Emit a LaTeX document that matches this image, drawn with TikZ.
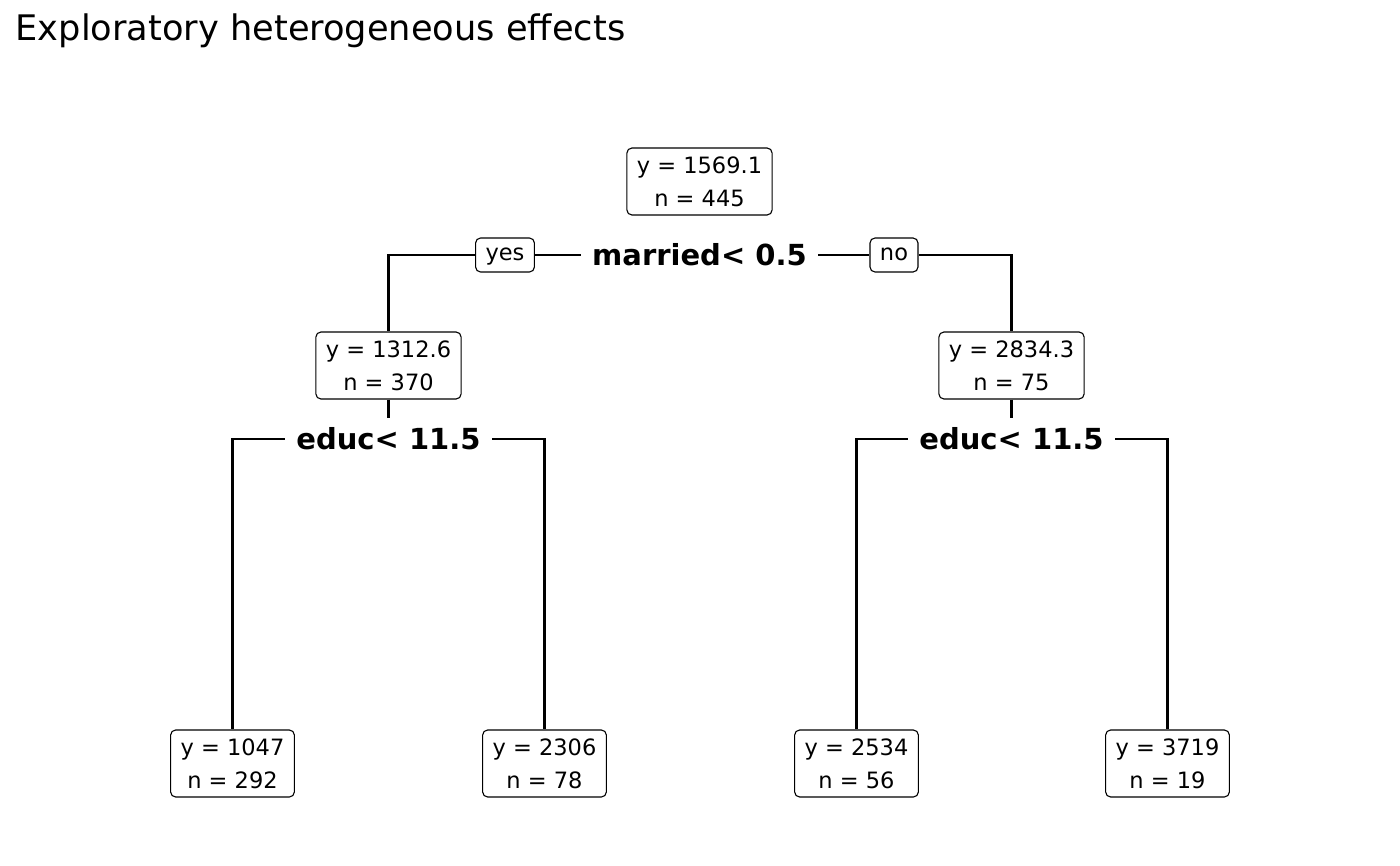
\documentclass[tikz,border=0pt]{standalone}
\usepackage{fontspec}
\setmainfont{DejaVu Sans}
\begin{document}
\begin{tikzpicture}[x=1pt,y=-1pt,
  box/.style={draw=black,line width=1.1pt,rounded corners=5pt,inner xsep=10pt,inner ysep=0pt,
    minimum height=67pt,align=center,font=\fontsize{22.5}{33}\selectfont},
  tag/.style={draw=black,line width=1.1pt,rounded corners=5pt,inner xsep=10pt,inner ysep=0pt,
    minimum height=34pt,text height=16.4pt,text depth=5.3pt,font=\fontsize{22.5}{27}\selectfont},
  split/.style={inner xsep=11.5pt,inner ysep=0pt,minimum height=42pt,font=\fontsize{29}{34}\selectfont\bfseries},
  edge/.style={line width=2.5pt}]
\useasboundingbox (0,0) rectangle (1400,866);
\node[anchor=base west,inner sep=0pt,font=\fontsize{35.2}{42}\selectfont] (title) at (15.5,41) {Exploratory heterogeneous effects};
% nodes
\node[box] (n1) at (699.5,181.5) {y = 1569.1\\n = 445};
\node[split] (s1) at (699.5,255) {married< 0.5};
\node[tag] (yes) at (505,255) {yes};
\node[tag] (no) at (894,255) {no};
\node[box] (n2) at (388.5,365.5) {y = 1312.6\\n = 370};
\node[box] (n3) at (1011.5,365.5) {y = 2834.3\\n = 75};
\node[split] (s2) at (388.5,439) {educ< 11.5};
\node[split] (s3) at (1011.5,439) {educ< 11.5};
\node[box] (l1) at (232.5,763.5) {y = 1047\\n = 292};
\node[box] (l2) at (544.5,763.5) {y = 2306\\n = 78};
\node[box] (l3) at (856.5,763.5) {y = 2534\\n = 56};
\node[box] (l4) at (1167.5,763.5) {y = 3719\\n = 19};
% connectors
\draw[edge] (s1.west) -- (yes.east);
\draw[edge] (yes.west) -| (n2.north);
\draw[edge] (s1.east) -- (no.west);
\draw[edge] (no.east) -| (n3.north);
\draw[edge] (n2.south) -- (s2.north);
\draw[edge] (n3.south) -- (s3.north);
\draw[edge] (s2.west) -| (l1.north);
\draw[edge] (s2.east) -| (l2.north);
\draw[edge] (s3.west) -| (l3.north);
\draw[edge] (s3.east) -| (l4.north);
\end{tikzpicture}
\end{document}
